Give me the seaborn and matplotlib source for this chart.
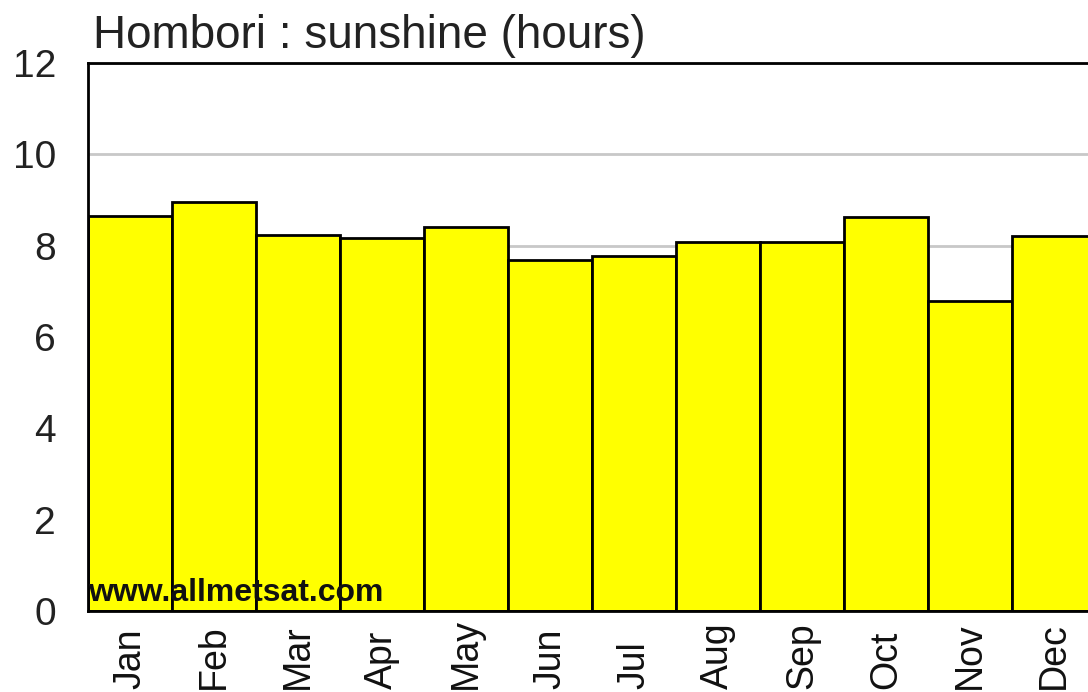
import pandas as pd
import matplotlib
matplotlib.use("Agg")
import matplotlib.pyplot as plt
import seaborn as sns

# Daten
months = ["Jan", "Feb", "Mar", "Apr", "May", "Jun",
          "Jul", "Aug", "Sep", "Oct", "Nov", "Dec"]
sunshine = [8.65, 8.96, 8.23, 8.17, 8.41, 7.69,
            7.77, 8.08, 8.08, 8.63, 6.79, 8.21]

data = pd.DataFrame({"month": months, "sunshine": sunshine})

sns.set_style("white")
plt.rcParams['font.family'] = ['Liberation Sans', 'DejaVu Sans']

fig = plt.figure(figsize=(10.88, 6.92), dpi=100)
ax = fig.add_axes([88 / 1088, 81 / 692, 1008 / 1088, 548 / 692])

sns.barplot(x="month", y="sunshine", data=data, color="#ffff00",
            saturation=1, width=1.0, edgecolor="black", linewidth=2,
            ax=ax, zorder=2)

ax.set_xlim(-0.5, 11.5)
ax.set_ylim(0, 12)
ax.set_yticks([0, 2, 4, 6, 8, 10, 12])
ax.yaxis.grid(True, color="#c8c8c8", linewidth=2, zorder=0)
ax.set_axisbelow(True)
ax.tick_params(axis="y", labelsize=28, length=0, pad=23, labelcolor="#222222")
# Monatsnamen unten ausgerichtet (wie im Original)
ax.tick_params(axis="x", labelsize=27, length=0, pad=56, labelrotation=90,
               labelcolor="#111111")
for lab in ax.get_xticklabels():
    lab.set_va("bottom")
ax.set_xlabel("")
ax.set_ylabel("")
for s in ax.spines.values():
    s.set_color("black")
    s.set_linewidth(2)

fig.text(93 / 1088, 1 - 48 / 692, "Hombori : sunshine (hours)",
         fontsize=33, color="#222222", ha="left", va="baseline")
ax.text(0.0, 0.005, "www.allmetsat.com", transform=ax.transAxes,
        fontsize=23, fontweight="bold", color="#111111",
        ha="left", va="bottom", zorder=5)

fig.savefig("out.png", dpi=100)
plt.close()
